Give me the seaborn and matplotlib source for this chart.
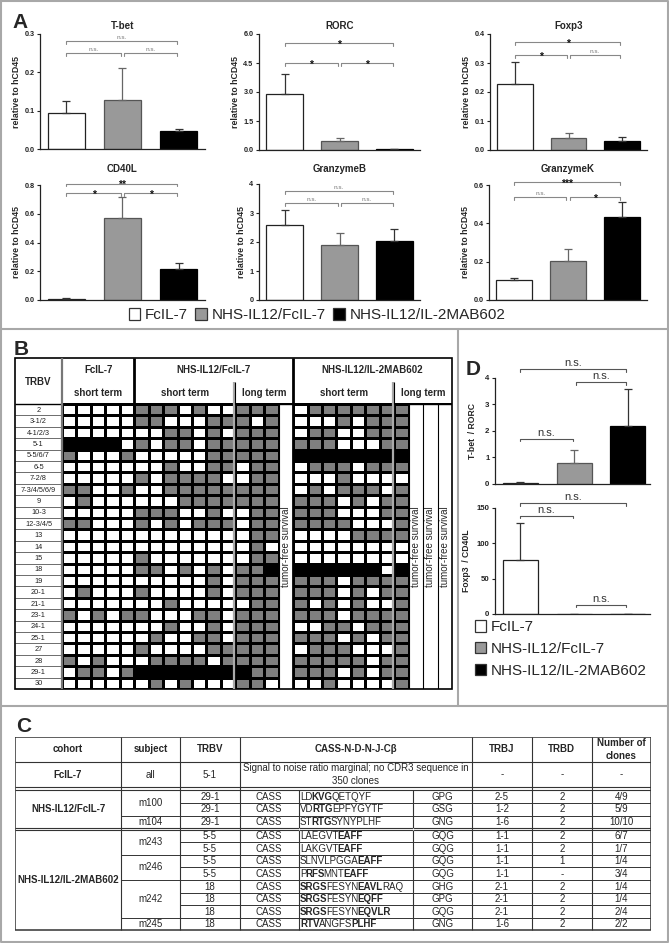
import re
import numpy as np
import pandas as pd
import matplotlib
matplotlib.use("Agg")
import matplotlib.pyplot as plt
import seaborn as sns
from matplotlib.colors import ListedColormap
from matplotlib.patches import Patch, Rectangle

sns.set_style("ticks")
plt.rcParams["font.family"] = ["Liberation Sans", "DejaVu Sans"]

# ---------------------------------------------------------------- data
groups = ["FcIL-7", "NHS-IL12/FcIL-7", "NHS-IL12/IL-2MAB602"]
bar_colors = ["white", "#999999", "black"]
bar_edges = ["#222222", "#555555", "#000000"]
err_colors = ["#333333", "#666666", "#333333"]

tbet_mean = [0.095, 0.127, 0.047]; tbet_err = [0.030, 0.083, 0.005]
rorc_mean = [2.88, 0.45, 0.05];    rorc_err = [1.07, 0.17, 0.02]
foxp3_mean = [0.226, 0.042, 0.032]; foxp3_err = [0.079, 0.018, 0.012]
cd40l_mean = [0.008, 0.567, 0.218]; cd40l_err = [0.004, 0.153, 0.040]
gzmb_mean = [2.60, 1.90, 2.03];    gzmb_err = [0.50, 0.42, 0.42]
gzmk_mean = [0.105, 0.202, 0.435]; gzmk_err = [0.010, 0.063, 0.077]

tbet_ticks = [0.0, 0.1, 0.2, 0.3]
rorc_ticks = [0.0, 1.5, 3.0, 4.5, 6.0]
foxp3_ticks = [0.0, 0.1, 0.2, 0.3, 0.4]
cd40l_ticks = [0.0, 0.2, 0.4, 0.6, 0.8]
gzmb_ticks = [0, 1, 2, 3, 4]
gzmk_ticks = [0.0, 0.2, 0.4, 0.6]

tbet_sig = [(0, 2, 0.282, "n.s."), (0, 1, 0.25, "n.s."), (1, 2, 0.25, "n.s.")]
rorc_sig = [(0, 2, 5.53, "*"), (0, 1, 4.5, "*"), (1, 2, 4.5, "*")]
foxp3_sig = [(0, 2, 0.372, "*"), (0, 1, 0.328, "*"), (1, 2, 0.328, "n.s.")]
cd40l_sig = [(0, 2, 0.81, "**"), (0, 1, 0.745, "*"), (1, 2, 0.745, "*")]
gzmb_sig = [(0, 2, 3.76, "n.s."), (0, 1, 3.34, "n.s."), (1, 2, 3.34, "n.s.")]
gzmk_sig = [(0, 2, 0.616, "***"), (0, 1, 0.537, "n.s."), (1, 2, 0.537, "*")]

# panel D
tr_mean = [0.05, 0.80, 2.18]; tr_err = [0.02, 0.48, 1.39]
fc_mean = [76.0, 0.5, 0.3];   fc_err = [53.0, 0.0, 0.0]
tr_ticks = [0, 1, 2, 3, 4]
fc_ticks = [0, 50, 100, 150]
tr_sig = [(0, 2, 4.34, "n.s."), (1, 2, 3.85, "n.s."), (0, 1, 1.70, "n.s.")]
fc_sig = [(0, 2, 157, "n.s."), (0, 1, 139, "n.s."), (1, 2, 13, "n.s.")]

# panel B  (W = not detected, G = detected, B = dominant clone)
trbv_labels = ["2", "3-1/2", "4-1/2/3", "5-1", "5-5/6/7", "6-5", "7-2/8",
               "7-3/4/5/6/9", "9", "10-3", "12-3/4/5", "13", "14", "15", "18",
               "19", "20-1", "21-1", "23-1", "24-1", "25-1", "27", "28", "29-1", "30"]
fcil7_short = ["WWWWW", "WWWWW", "WWWWW", "BBBBW", "GWWWG", "WWWWW", "WWWWW",
               "GGWWG", "WGWWW", "WWWWW", "GGWWW", "WWWWW", "WWWWW", "WWWWW",
               "WWWWW", "WWWWW", "WGWWW", "WWWWW", "GWGWG", "WWWWW", "WWWWW",
               "WWWWW", "GWGWW", "WGGWG", "WWWWW"]
nhs_fc_short = ["GGGWGWW", "GGWWWGG", "WWGGWGW", "GWGGWGG", "WWWWWGG", "WWGWWGG",
                "GWGGGGW", "WWGGGGG", "WWWGGGG", "GGGWWGW", "GWGWGGG", "WWWWWWW",
                "WWWWWWW", "GWWWWWW", "GGWGWGW", "WWWWWGW", "GWWWWGW", "WWGWWWW",
                "GWWWGGW", "WWGWWGW", "WGWWGGW", "GWWWWGG", "WGGGGWG", "BBBBBBB",
                "WGWGWWW"]
nhs_fc_long = ["GGG", "GWG", "GGG", "GGG", "GGG", "WGG", "WGG", "GGG", "GGG", "WGG",
               "WGG", "WGG", "WGW", "WGG", "GGB", "GGG", "GGG", "WGG", "GGG", "GGG",
               "GGG", "GGG", "GGG", "BGG", "GGW"]
mab_short = ["WGGGGGG", "WWWGWGG", "WGGWWGG", "GGGWWWG", "BBBBBBB", "WGGGWGG",
             "WWWGWWW", "WGWGGGW", "GGGWGWG", "GGGWWWG", "GGGGWWW", "WWWWGGG",
             "WWWWWWW", "WWWWWWW", "BBBBBBW", "GGGWGGG", "GGGWGWG", "GWGWGWW",
             "GGGWGGG", "WWGGWGG", "GGGWGWG", "WGGGWWW", "GGGGGWG", "GGGWGWG",
             "WWGWWWW"]
mab_long = ["G", "G", "G", "G", "B", "G", "W", "G", "G", "G", "G", "G", "W", "W",
            "B", "G", "G", "G", "G", "G", "G", "G", "G", "G", "G"]

# panel C
c_header = ["cohort", "subject", "TRBV", "CASS-N-D-N-J-C\u03b2", "TRBJ", "TRBD", "Number of\nclones"]
c_fcil_row = ["FcIL-7", "all", "5-1", "Signal to noise ratio marginal; no CDR3 sequence in\n350 clones", "-", "-", "-"]
c_cohorts = ["NHS-IL12/FcIL-7", "NHS-IL12/IL-2MAB602"]
c_cohort_rows = [3, 8]
c_subjects = ["m100", "m104", "m243", "m246", "m242", "m245"]
c_subject_rows = [2, 1, 2, 2, 3, 1]
c_trbv = ["29-1", "29-1", "29-1", "5-5", "5-5", "5-5", "5-5", "18", "18", "18", "18"]
c_cass = ["CASS"] * 11
c_seq = ["LD[KVG]QETQYF", "VD[RTG]EPFYGYTF", "ST[RTG]SYNYPLHF", "LAEGVT[EAFF]",
         "LAKGVT[EAFF]", "SLNVLPGGA[EAFF]", "P[RFS]MNT[EAFF]", "[SRGS]FESYN[EAVL]RAQ",
         "[SRGS]FESYN[EQFF]", "[SRGS]FESYN[EQVLR]", "[RTV]ANGFS[PLHF]"]
c_n = ["GPG", "GSG", "GNG", "GQG", "GQG", "GQG", "GQG", "GHG", "GPG", "GQG", "GNG"]
c_trbj = ["2-5", "1-2", "1-6", "1-1", "1-1", "1-1", "1-1", "2-1", "2-1", "2-1", "1-6"]
c_trbd = ["2", "2", "2", "2", "2", "1", "-", "2", "2", "2", "2"]
c_clones = ["4/9", "5/9", "10/10", "6/7", "1/7", "1/4", "3/4", "1/4", "1/4", "2/4", "2/2"]

# ---------------------------------------------------------------- figure
W, H = 669, 943
fig = plt.figure(figsize=(W / 100, H / 100), dpi=100)
fig.patch.set_facecolor("white")


def px_axes(x0, y0, x1, y1):
    return fig.add_axes([x0 / W, 1 - y1 / H, (x1 - x0) / W, (y1 - y0) / H])


bg = fig.add_axes([0, 0, 1, 1])
bg.set_xlim(0, W); bg.set_ylim(H, 0); bg.axis("off")
sep = dict(color="#a8a8a8", lw=1.5)
bg.plot([1, W - 1, W - 1, 1, 1], [1, 1, H - 1, H - 1, 1], **sep)
bg.plot([1, W - 1], [329, 329], **sep)
bg.plot([1, W - 1], [706, 706], **sep)
bg.plot([458, 458], [329, 706], **sep)
for lab, x, y in [("A", 12, 28), ("B", 14, 355), ("D", 466, 375), ("C", 16, 732)]:
    bg.text(x, y, lab, fontsize=15, fontweight="bold", va="baseline", ha="left")


def bar_panel(ax, means, errs, ticks, sigs, ylabel, title=None, title_pad=3.4,
              tick_fmt="{:.1f}", tick_fs=5.2, ylab_fs=6.3, ns_fs=4.6, ns_color="#777777",
              br_color="#888888", xlim=(-0.47, 2.47), width=0.67, labelpad=2.5):
    df = pd.DataFrame({"group": groups, "value": means})
    sns.barplot(data=df, x="group", y="value", hue="group", order=groups,
                hue_order=groups, palette=bar_colors, legend=False, width=width,
                saturation=1, linewidth=0.9, ax=ax)
    for p, ec in zip(ax.patches, bar_edges):
        p.set_edgecolor(ec)
    for i in range(3):
        ax.errorbar(i, means[i], yerr=[[0], [errs[i]]], fmt="none", ecolor=err_colors[i],
                    elinewidth=0.9, capsize=3.2, capthick=0.9, zorder=1)
    ax.set_xlim(*xlim)
    ax.set_ylim(ticks[0], ticks[-1])
    ax.set_yticks(ticks)
    ax.set_yticklabels([tick_fmt.format(t) for t in ticks], fontsize=tick_fs, fontweight="bold")
    ax.set_xticks([])
    ax.set_xlabel("")
    ax.set_ylabel(ylabel, fontsize=ylab_fs, fontweight="bold", labelpad=labelpad)
    if title:
        ax.set_title(title, fontsize=7, fontweight="bold", pad=title_pad)
    sns.despine(ax=ax)
    for s in ["left", "bottom"]:
        ax.spines[s].set_linewidth(0.9)
        ax.spines[s].set_color("#222222")
    ax.tick_params(axis="y", length=2.5, width=0.8, pad=1.5, colors="#222222")
    ax.patch.set_alpha(0)
    h = 0.024 * (ticks[-1] - ticks[0])
    for i, j, y, lab in sigs:
        x0 = i + (0.03 if j - i == 1 and i == 1 else 0)
        x1 = j - (0.03 if j - i == 1 and i == 0 else 0.03)
        ax.plot([x0, x0, x1, x1], [y - h, y, y, y - h], color=br_color, lw=0.8, clip_on=False)
        if lab == "n.s.":
            ax.annotate(lab, xy=((x0 + x1) / 2, y), xytext=(0, 0.6), textcoords="offset points",
                        ha="center", va="bottom", fontsize=ns_fs, color=ns_color,
                        annotation_clip=False)
        else:
            ax.annotate(lab, xy=((x0 + x1) / 2, y), xytext=(0, -3.4), textcoords="offset points",
                        ha="center", va="baseline", fontsize=7.5, fontweight="bold",
                        color="#111111", annotation_clip=False)


ylab = "relative to hCD45"
bar_panel(px_axes(40, 34, 205, 149), tbet_mean, tbet_err, tbet_ticks, tbet_sig, ylab, "T-bet")
bar_panel(px_axes(259, 34, 420, 150), rorc_mean, rorc_err, rorc_ticks, rorc_sig, ylab, "RORC")
bar_panel(px_axes(490, 34, 647, 150), foxp3_mean, foxp3_err, foxp3_ticks, foxp3_sig, ylab, "Foxp3")
bar_panel(px_axes(40, 185, 205, 300), cd40l_mean, cd40l_err, cd40l_ticks, cd40l_sig, ylab,
          "CD40L", title_pad=9.6)
bar_panel(px_axes(259, 184, 420, 300), gzmb_mean, gzmb_err, gzmb_ticks, gzmb_sig, ylab,
          "GranzymeB", title_pad=9.0, tick_fmt="{:.0f}")
bar_panel(px_axes(489, 185, 647, 300), gzmk_mean, gzmk_err, gzmk_ticks, gzmk_sig, ylab,
          "GranzymeK", title_pad=9.6)

handles = [Patch(facecolor=c, edgecolor="#333333", linewidth=0.9, label=g)
           for c, g in zip(bar_colors, groups)]
fig.legend(handles=handles, loc="center", bbox_to_anchor=(317 / W, 1 - 315 / H), ncol=3,
           frameon=False, fontsize=11, handlelength=0.75, handleheight=0.8,
           handletextpad=0.3, columnspacing=0.5, borderaxespad=0, borderpad=0)

# ---------------------------------------------------------------- panel D
bar_panel(px_axes(495, 378, 650, 484), tr_mean, tr_err, tr_ticks, tr_sig, "T-bet  / RORC",
          tick_fmt="{:.0f}", tick_fs=5.6, ylab_fs=6.2, ns_fs=8, ns_color="#333333",
          br_color="#555555", xlim=(-0.47, 2.41), width=0.65, labelpad=6)
bar_panel(px_axes(495, 508, 650, 614), fc_mean, fc_err, fc_ticks, fc_sig, "Foxp3  / CD40L",
          tick_fmt="{:.0f}", tick_fs=5.6, ylab_fs=6.2, ns_fs=8, ns_color="#333333",
          br_color="#555555", xlim=(-0.47, 2.41), width=0.65, labelpad=4)
fig.legend(handles=handles, loc="upper left", bbox_to_anchor=(475 / W, 1 - 620 / H),
           frameon=False, fontsize=11, handlelength=0.75, handleheight=0.8,
           handletextpad=0.3, labelspacing=0.5, borderaxespad=0, borderpad=0)

# ---------------------------------------------------------------- panel B
code_map = {"W": 0, "G": 1, "B": 2}
rows = []
for k in range(len(trbv_labels)):
    r = ([code_map[c] for c in fcil7_short[k]] + [code_map[c] for c in nhs_fc_short[k]]
         + [code_map[c] for c in nhs_fc_long[k]] + [np.nan]
         + [code_map[c] for c in mab_short[k]] + [code_map[c] for c in mab_long[k]]
         + [np.nan] * 3)
    rows.append(r)
grid = pd.DataFrame(rows, index=trbv_labels)
nr, nc = grid.shape

axb = px_axes(15, 358, 452, 689)
sns.heatmap(grid, ax=axb, cmap=ListedColormap(["white", "#7f7f7f", "black"]),
            vmin=-0.5, vmax=2.5, cbar=False, linewidths=0.8, linecolor="black")
axb.set_xticks([]); axb.set_yticks([])
axb.set_xlabel(""); axb.set_ylabel("")
x_left, y_top = -3.25, -4.03
axb.set_xlim(x_left, nc)
axb.set_ylim(nr, y_top)
for s in axb.spines.values():
    s.set_visible(False)

# survival columns: blank out the empty (masked) columns
surv_blocks = [(15, 1), (24, 3)]
for x0, w in surv_blocks:
    axb.add_patch(Rectangle((x0, -0.02), w, nr + 0.04, facecolor="white",
                            edgecolor="none", zorder=2))
lz = dict(zorder=3)
axb.vlines([15, 24], 0, nr, color="black", lw=0.8, **lz)
axb.vlines([25, 26], 0, nr, color="black", lw=0.8, **lz)
surv_cols = [15.5, 24.5, 25.5, 26.5]
for xc in surv_cols:
    axb.text(xc, 12.5, "tumor-free survival", rotation=90, ha="center", va="center",
             fontsize=7, zorder=4)

# TRBV label column
axb.hlines(range(1, nr), x_left, 0, color="#555555", lw=0.6, **lz)
for k, lab in enumerate(trbv_labels):
    axb.text(x_left / 2, k + 0.55, lab, ha="center", va="center", fontsize=5.3, color="#222222")
# frame and group separators
axb.add_patch(Rectangle((x_left, y_top), nc - x_left, nr - y_top, fill=False,
                        edgecolor="black", lw=1.2, clip_on=False, zorder=3))
axb.hlines(0, x_left, nc, color="black", lw=1.0, **lz)
axb.vlines(0, y_top, nr, color="#777777", lw=1.6, **lz)
axb.vlines(5, y_top, nr, color="black", lw=2.0, **lz)
axb.vlines(16, y_top, nr, color="black", lw=2.0, **lz)
for xs in [12, 23]:
    axb.vlines(xs - 0.1, -1.93, nr, color="#aaaaaa", lw=1.6, **lz)
    axb.vlines(xs, -1.93, 0, color="black", lw=0.8, **lz)
axb.text(x_left / 2, -1.96, "TRBV", ha="center", va="center", fontsize=7, fontweight="bold")
for xc, lab in [(2.5, "FcIL-7"), (10.5, "NHS-IL12/FcIL-7"), (21.5, "NHS-IL12/IL-2MAB602")]:
    axb.text(xc, -3.0, lab, ha="center", va="center", fontsize=7, fontweight="bold")
for xc, lab in [(2.5, "short term"), (8.5, "short term"), (14, "long term"),
                (19.5, "short term"), (25, "long term")]:
    axb.text(xc, -0.94, lab, ha="center", va="center", fontsize=7, fontweight="bold")

# ---------------------------------------------------------------- panel C
tc = px_axes(15, 737, 651, 931)
tc.set_xlim(15, 651); tc.set_ylim(931, 737); tc.axis("off")
col_x = [15, 121, 180, 240, 472, 532, 591.5, 651]
sub_x = [298.5, 413]
lc = "#333333"
centers = [(col_x[i] + col_x[i + 1]) / 2 for i in range(7)]
hdr_top, hdr_bot, fc_bot = 737, 762, 787
nhs_top, nhs_h = 790, 12.77
mab_top, mab_h = 829.6, 12.6
nhs_edges = [nhs_top + k * nhs_h for k in range(4)]
mab_edges = [mab_top + k * mab_h for k in range(9)]
tbl_bot = mab_edges[-1]

tc.add_patch(Rectangle((15, hdr_top), 636, tbl_bot - hdr_top, fill=False, edgecolor=lc, lw=1.1))
tc.hlines([hdr_bot, fc_bot, nhs_top, nhs_edges[-1], mab_top], 15, 651, color=lc, lw=0.8)
tc.vlines(col_x[1:-1], hdr_top, tbl_bot, color=lc, lw=0.8)
tc.vlines(sub_x, nhs_top, tbl_bot, color=lc, lw=0.8)
tc.vlines(sub_x, nhs_edges[-1], mab_top, color="white", lw=0.8)
row_edges = nhs_edges[:-1] + mab_edges[:-1]
row_heights = [nhs_h] * 3 + [mab_h] * 8
subj_starts = np.cumsum([0] + c_subject_rows)
coh_starts = np.cumsum([0] + c_cohort_rows)
for k in range(1, 11):
    if k in coh_starts:
        continue
    x0 = col_x[1] if k in subj_starts else col_x[2]
    tc.hlines(row_edges[k], x0, 651, color=lc, lw=0.7)

fs = 7
for xc, lab in zip(centers, c_header):
    tc.text(xc, (hdr_top + hdr_bot) / 2, lab, ha="center", va="center", fontsize=fs,
            fontweight="bold", linespacing=1.3)
for i, (xc, lab) in enumerate(zip(centers, c_fcil_row)):
    tc.text(xc, (hdr_bot + fc_bot) / 2, lab, ha="center", va="center", fontsize=fs,
            fontweight="bold" if i == 0 else "normal", linespacing=1.3)
for c_i, lab in enumerate(c_cohorts):
    s, e = coh_starts[c_i], coh_starts[c_i + 1]
    y0 = row_edges[s]; y1 = row_edges[e - 1] + row_heights[e - 1]
    tc.text(centers[0], (y0 + y1) / 2, lab, ha="center", va="center", fontsize=fs,
            fontweight="bold")
for s_i, lab in enumerate(c_subjects):
    s, e = subj_starts[s_i], subj_starts[s_i + 1]
    y0 = row_edges[s]; y1 = row_edges[e - 1] + row_heights[e - 1]
    tc.text(centers[1], (y0 + y1) / 2, lab, ha="center", va="center", fontsize=fs)

renderer = fig.canvas.get_renderer()
inv = tc.transData.inverted()
for k in range(11):
    yc = row_edges[k] + row_heights[k] / 2 + 0.3
    tc.text(centers[2], yc, c_trbv[k], ha="center", va="center", fontsize=fs)
    tc.text((col_x[3] + sub_x[0]) / 2, yc, c_cass[k], ha="center", va="center", fontsize=fs)
    tc.text((sub_x[1] + col_x[4]) / 2, yc, c_n[k], ha="center", va="center", fontsize=fs)
    tc.text(centers[4], yc, c_trbj[k], ha="center", va="center", fontsize=fs)
    tc.text(centers[5], yc, c_trbd[k], ha="center", va="center", fontsize=fs)
    tc.text(centers[6], yc, c_clones[k], ha="center", va="center", fontsize=fs)
    x = sub_x[0] + 1.5
    for seg in re.split(r"(\[[^\]]+\])", c_seq[k]):
        if not seg:
            continue
        bold = seg.startswith("[")
        txt = seg.strip("[]")
        t = tc.text(x, yc, txt, ha="left", va="center", fontsize=fs,
                    fontweight="bold" if bold else "normal")
        bb = t.get_window_extent(renderer)
        x = inv.transform((bb.x1, bb.y0))[0] - 1.0

fig.savefig("out.png", dpi=100)
